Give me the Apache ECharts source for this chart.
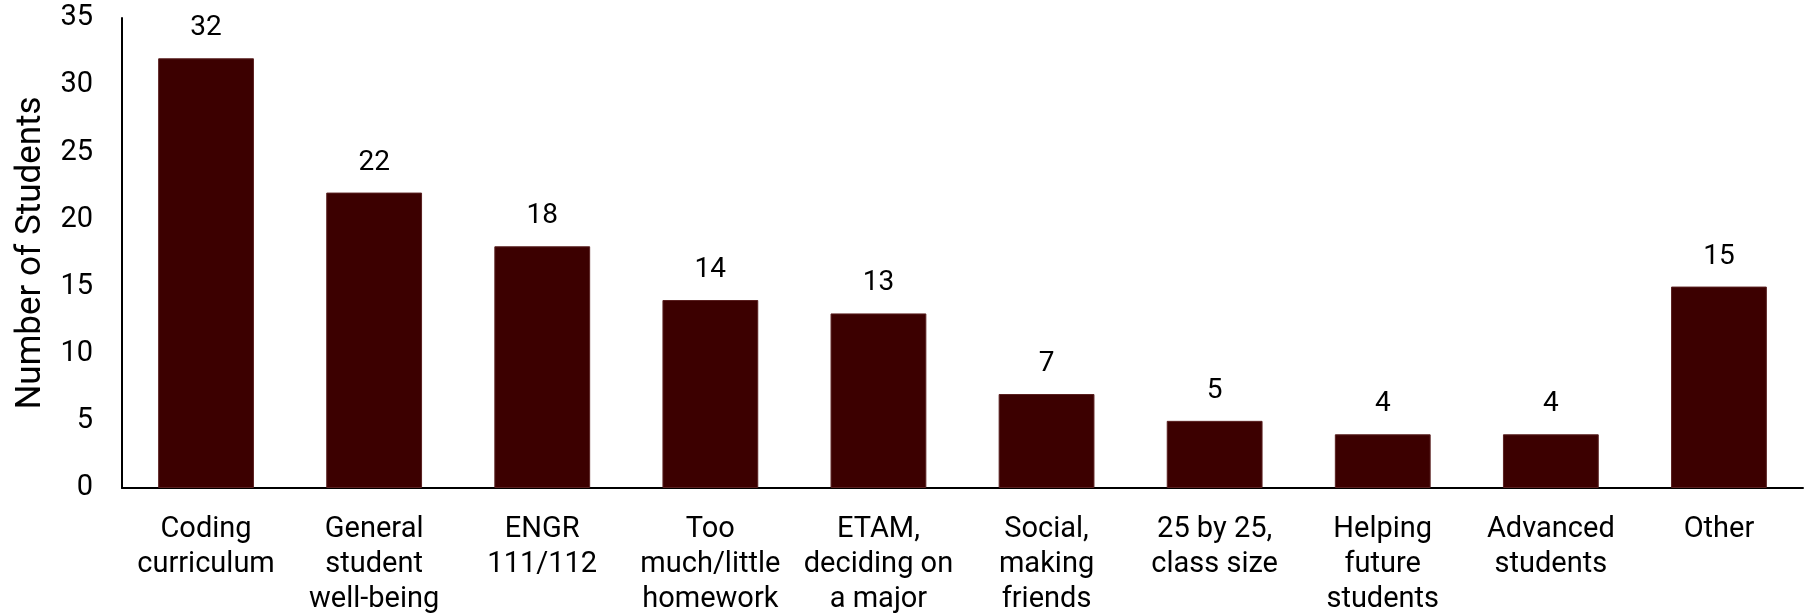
<!DOCTYPE html>
<html>
<head>
<meta charset="utf-8">
<script src="https://cdn.jsdelivr.net/npm/echarts@6/dist/echarts.min.js"></script>
<style>html,body{margin:0;padding:0;background:#fff}#c{width:1805px;height:613px}</style>
</head>
<body>
<div id="c"></div>
<script>
const categories = ["Coding\ncurriculum", "General\nstudent\nwell-being", "ENGR\n111/112", "Too\nmuch/little\nhomework", "ETAM,\ndeciding on\na major", "Social,\nmaking\nfriends", "25 by 25,\nclass size", "Helping\nfuture\nstudents", "Advanced\nstudents", "Other"];
const values = [32, 22, 18, 14, 13, 7, 5, 4, 4, 15];
const yTicks = [0, 5, 10, 15, 20, 25, 30, 35];
const font = "Roboto, 'Liberation Sans', sans-serif";
const chart = echarts.init(document.getElementById('c'));
chart.setOption({
  animation: false,
  grid: {left: 122, right: 2, top: 18, bottom: 125, outerBoundsMode: 'none', containLabel: false},
  xAxis: {
    type: 'category', data: categories,
    axisLine: {lineStyle: {color: '#000', width: 2}},
    axisTick: {show: false},
    axisLabel: {color: '#000', fontFamily: font, fontSize: 29, lineHeight: 35, margin: 24, interval: 0}
  },
  yAxis: {
    type: 'value', min: yTicks[0], max: yTicks[yTicks.length - 1], interval: 5,
    name: 'Number of Students', nameLocation: 'middle', nameGap: 73,
    nameTextStyle: {color: '#000', fontFamily: font, fontSize: 35},
    axisLine: {show: true, lineStyle: {color: '#000', width: 2}},
    axisTick: {show: false},
    splitLine: {show: false},
    axisLabel: {color: '#000', fontFamily: font, fontSize: 29, margin: 29}
  },
  series: [{
    type: 'bar', data: values, barWidth: '57%',
    itemStyle: {color: '#3c0000', borderColor: '#5a2020', borderWidth: 1},
    label: {show: true, position: 'top', distance: 16, color: '#000', fontFamily: font, fontSize: 28}
  }]
});
</script>
</body>
</html>
